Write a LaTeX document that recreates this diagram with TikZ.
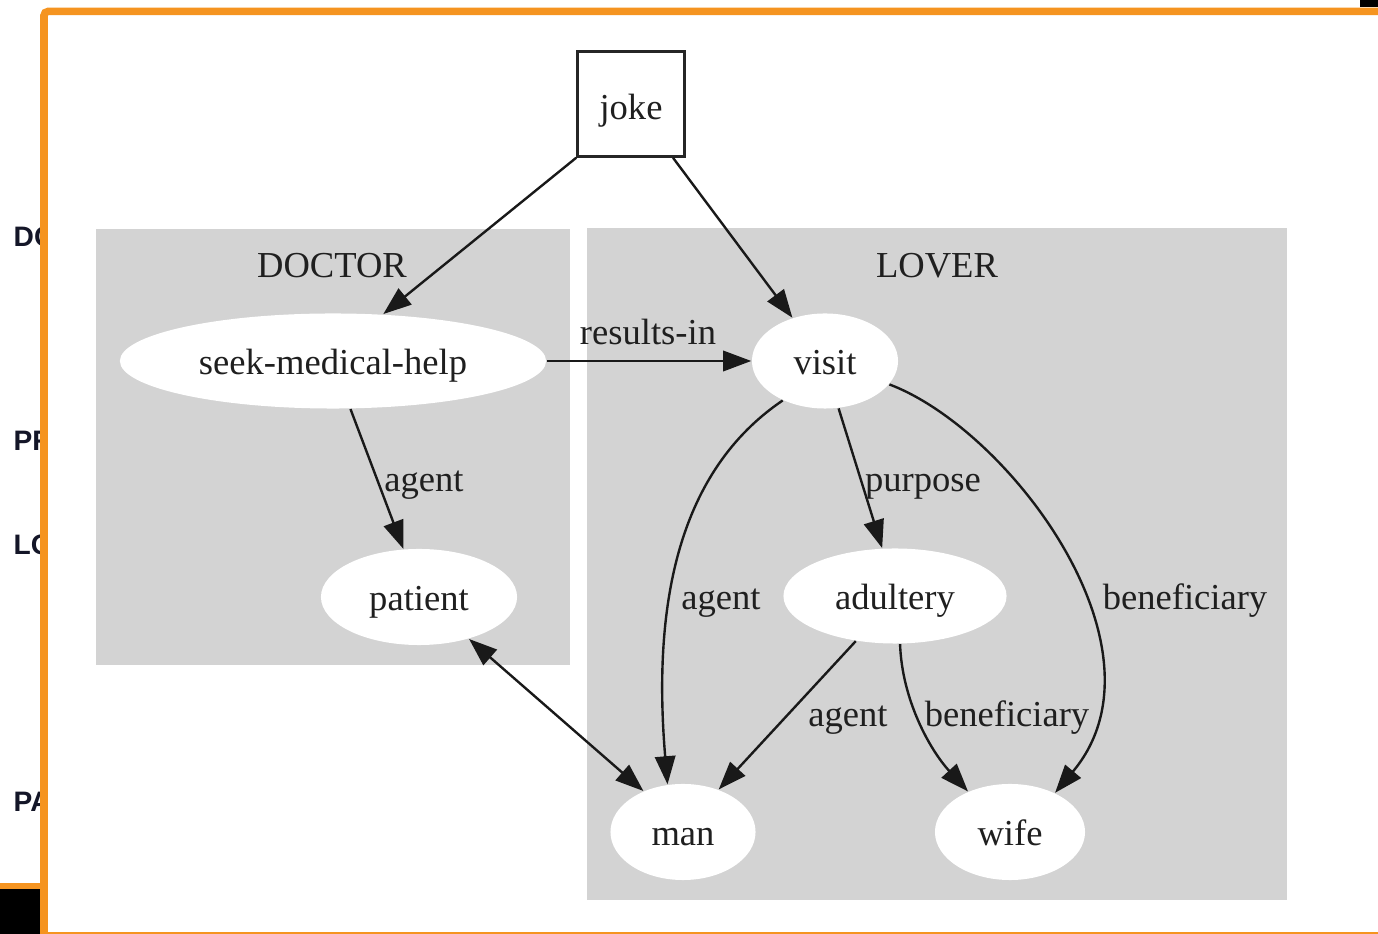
\documentclass[tikz,border=0pt]{standalone}
\usepackage{fontspec}
\setmainfont{Liberation Serif}
\newfontfamily\sidefont{Liberation Sans}
\usetikzlibrary{arrows.meta,shapes.geometric}
\definecolor{frameorange}{RGB}{245,148,32}
\definecolor{clustergray}{RGB}{211,211,211}
\definecolor{sidetext}{RGB}{20,22,40}
\tikzset{
  base/.style={font=\fontsize{10.4}{12}\selectfont, text=black!88},
  ell/.style={base, ellipse, fill=white, inner sep=0pt, text height=10pt, text depth=2.6pt},
  lbl/.style={base, inner sep=0pt, anchor=base},
  cluster/.style={fill=clustergray, draw=none},
  arr/.style={line width=0.68pt, black!90, -{Triangle[length=8pt,width=5.8pt]}},
  darr/.style={line width=0.68pt, black!90, {Triangle[length=8pt,width=5.8pt]}-{Triangle[length=8pt,width=5.8pt]}},
  side/.style={font=\sidefont\bfseries\fontsize{8}{10}\selectfont, text=sidetext, anchor=west, inner sep=0pt},
}
\begin{document}
\begin{tikzpicture}[x=0.01cm, y=-0.01cm]
\useasboundingbox (0,0) rectangle (1378,934);
\fill[white] (0,0) rectangle (1378,934);
% side texts, clipped by the frame
\begin{scope}
\clip (0,0) rectangle (40,880);
\node[side] (sDO) at (13,237) {DOCTOR};
\node[side] (sPR) at (13,441) {PROCESS};
\node[side] (sLO) at (13,545) {LOVER};
\node[side] (sPA) at (13,802) {PATIENT};
\end{scope}
% frame
\fill[black] (1360,0) rectangle (1378,7);
\fill[frameorange] (0,883) rectangle (40,889);
\fill[black] (0,889) rectangle (40,934);
\draw[frameorange, line width=0.075cm, rounded corners=0.04cm] (44,934) -- (44,11.5) -- (1378,11.5);
\fill[frameorange] (48,932) rectangle (1378,934);
% clusters
\fill[cluster] (96,229) rectangle (570,665);
\fill[cluster] (587,228) rectangle (1287,900);
\node[lbl] (doctor) at (332,278) {DOCTOR};
\node[lbl] (lover) at (937,278) {LOVER};
% nodes
\node[base, draw=black!85, line width=0.68pt, fill=white, minimum width=1.07cm, minimum height=1.05cm, inner sep=0pt, text height=10pt, text depth=1pt] (joke) at (631,104) {joke};
\node[ell, minimum width=4.26cm, minimum height=0.95cm] (seek) at (333,361) {seek-medical-help};
\node[ell, minimum width=1.46cm, minimum height=0.95cm] (visit) at (825,361) {visit};
\node[ell, minimum width=1.96cm, minimum height=0.96cm] (patient) at (419,597) {patient};
\node[ell, minimum width=2.23cm, minimum height=0.95cm] (adultery) at (895,596) {adultery};
\node[ell, minimum width=1.45cm, minimum height=0.96cm] (man) at (683,832) {man};
\node[ell, minimum width=1.50cm, minimum height=0.96cm] (wife) at (1010,832) {wife};
% edges
\draw[arr] (joke.south west) -- (seek.43);
\draw[arr] (joke.-52) -- (visit.127);
\draw[arr] (seek) -- (visit);
\node[lbl] (lres) at (648,345) {results-in};
\draw[arr] (seek.-70) -- (patient.108);
\node[lbl] (lag1) at (424,492) {agent};
\draw[darr] (patient.-40) -- (man.134);
\draw[arr] (visit.-137) .. controls (680,470) and (652,600) .. (man.108);
\node[lbl] (lag2) at (721,610) {agent};
\draw[arr] (visit.-74) -- (adultery.105);
\node[lbl] (lpur) at (923,492) {purpose};
\draw[arr] (visit.-20) .. controls (1010,430) and (1175,650) .. (wife.41);
\node[lbl] (lben1) at (1185,610) {beneficiary};
\draw[arr] (adultery.-131) -- (man.50);
\node[lbl] (lag3) at (848,727) {agent};
\draw[arr] (adultery.-84) .. controls (902,700) and (930,750) .. (wife.136);
\node[lbl] (lben2) at (1007,727) {beneficiary};
\end{tikzpicture}
\end{document}
